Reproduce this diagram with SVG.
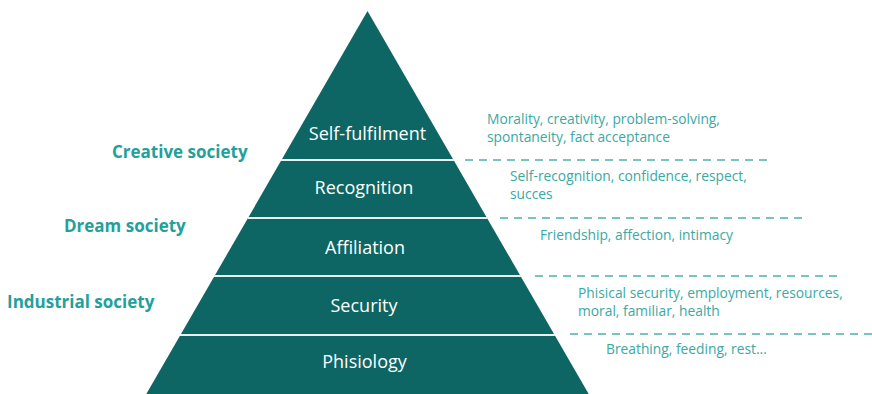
<svg xmlns="http://www.w3.org/2000/svg" width="872" height="394" viewBox="0 0 872 394">
<style>
.band{fill:#0d6663}
.sep{stroke:#e9f1f0;stroke-width:2}
.lvl{font-family:"Open Sans","Noto Sans",sans-serif;font-size:18px;fill:#ffffff;text-anchor:middle}
.desc{font-family:"Open Sans","Noto Sans",sans-serif;font-size:13.8px;fill:#3aa9a4}
.soc{font-family:"Open Sans","Noto Sans",sans-serif;font-size:17px;font-weight:bold;fill:#23a09c}
.dash{stroke:#4fb0ab;stroke-width:1.3;stroke-dasharray:8 6;fill:none}
</style>
<rect width="872" height="394" fill="#ffffff"/>
<g id="self-fulfilment">
<polygon class="band" points="367.5,11 453.55,160 281.45,160"/>
<text class="lvl" x="367.5" y="140">Self-fulfilment</text>
</g>
<g id="recognition">
<polygon class="band" points="281.45,160 453.55,160 487,218 248,218"/>
<text class="lvl" x="364" y="194">Recognition</text>
</g>
<g id="affiliation">
<polygon class="band" points="248,218 487,218 520.5,276 214.5,276"/>
<text class="lvl" x="365" y="254">Affiliation</text>
</g>
<g id="security">
<polygon class="band" points="214.5,276 520.5,276 554.6,335 180.4,335"/>
<text class="lvl" x="364" y="312">Security</text>
</g>
<g id="phisiology">
<polygon class="band" points="180.4,335 554.6,335 588.7,394 146.3,394"/>
<text class="lvl" x="364.5" y="368">Phisiology</text>
</g>
<g id="separators">
<line class="sep" x1="281" y1="160" x2="454" y2="160"/>
<line class="sep" x1="247.5" y1="218" x2="487.5" y2="218"/>
<line class="sep" x1="214" y1="276" x2="521" y2="276"/>
<line class="sep" x1="180" y1="335" x2="555" y2="335"/>
</g>
<g id="connectors">
<line class="dash" x1="465" y1="160" x2="772" y2="160"/>
<line class="dash" x1="500" y1="218" x2="807" y2="218"/>
<line class="dash" x1="535" y1="276" x2="840" y2="276"/>
<line class="dash" x1="570" y1="334" x2="872" y2="334"/>
</g>
<g id="desc-self-fulfilment">
<text class="desc" x="487" y="124">Morality, creativity, problem-solving,</text>
<text class="desc" x="487" y="142">spontaneity, fact acceptance</text>
</g>
<g id="desc-recognition">
<text class="desc" x="510" y="181">Self-recognition, confidence, respect,</text>
<text class="desc" x="510" y="198.5">succes</text>
</g>
<g id="desc-affiliation">
<text class="desc" x="540" y="240">Friendship, affection, intimacy</text>
</g>
<g id="desc-security">
<text class="desc" x="578" y="298">Phisical security, employment, resources,</text>
<text class="desc" x="578" y="315.5">moral, familiar, health</text>
</g>
<g id="desc-phisiology">
<text class="desc" x="606" y="354">Breathing, feeding, rest...</text>
</g>
<g id="creative-society"><text class="soc" x="112" y="158">Creative society</text></g>
<g id="dream-society"><text class="soc" x="64" y="232">Dream society</text></g>
<g id="industrial-society"><text class="soc" x="7" y="308">Industrial society</text></g>
</svg>
